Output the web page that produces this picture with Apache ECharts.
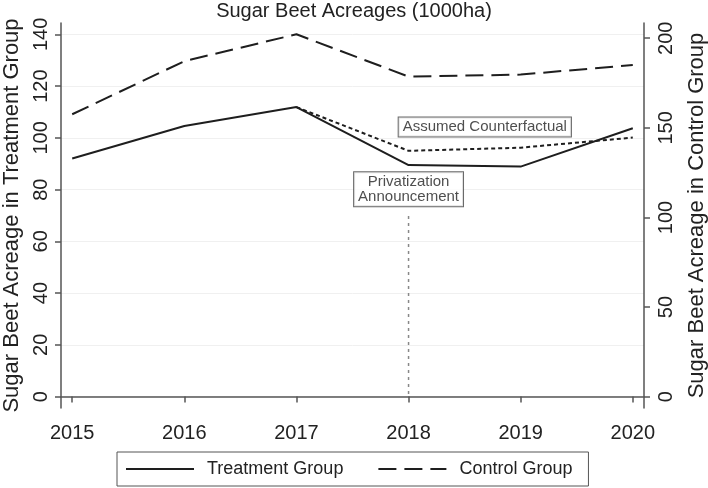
<!DOCTYPE html>
<html>
<head>
<meta charset="utf-8">
<script src="https://cdn.jsdelivr.net/npm/echarts@6/dist/echarts.min.js"></script>
<style>
html,body{margin:0;padding:0;background:#fff;}
#chart{width:708px;height:488px;}
</style>
</head>
<body>
<div id="chart"></div>
<script>
const years = [2015, 2016, 2017, 2018, 2019, 2020];
const treatment = [92.0, 104.6, 111.9, 89.5, 88.9, 103.7];
const control = [157.6, 187.2, 202.2, 178.6, 179.7, 185.1];
const cfYears = [2017, 2018, 2019, 2020];
const counterfactual = [111.9, 95.0, 96.2, 100.1];
const announceYear = 2018;
const announceSpan = [1, 70];
const leftTicks = [0, 20, 40, 60, 80, 100, 120, 140];
const rightTicks = [0, 50, 100, 150, 200];
const cfLabel = 'Assumed Counterfactual';
const announceLabel = 'Privatization\nAnnouncement';
const cfLabelAt = [2018.68, 104.2];
const announceLabelAt = [2018, 80.1];

const FONT = '"Liberation Sans", Arial, sans-serif';
const axisCol = '#555';
const lineCol = '#1e1e1e';
const clear = 'rgba(0,0,0,0)';

const chart = echarts.init(document.getElementById('chart'));
const boxLabel = {
  show: true, position: 'inside', formatter: p => p.name,
  color: '#222', fontFamily: FONT, fontSize: 15, lineHeight: 15,
  backgroundColor: '#fff', borderColor: '#444', borderWidth: 1,
  padding: [2, 4, 2, 4]
};
chart.setOption({
  animation: false,
  backgroundColor: '#fff',
  title: {
    text: 'Sugar Beet Acreages (1000ha)', left: 'center', top: 1, padding: 0,
    textStyle: {fontFamily: FONT, fontSize: 20, fontWeight: 'normal', color: '#222'}
  },
  grid: {left: 61, right: 64, top: 23, bottom: 80, containLabel: false, outerBoundsMode: 'none'},
  legend: {
    data: ['Treatment Group', 'Control Group'],
    left: 117, top: 452, itemWidth: 68, itemHeight: 12, itemGap: 34,
    padding: [8, 16, 8, 8], borderColor: '#555', borderWidth: 1,
    itemStyle: {opacity: 0},
    textStyle: {fontFamily: FONT, fontSize: 18, color: '#222', padding: [0, 0, 0, 8]}
  },
  xAxis: {
    type: 'value', min: 2014.9, max: 2020.1,
    axisLine: {lineStyle: {color: axisCol, width: 1.5}},
    axisTick: {show: true, length: 6, customValues: years, lineStyle: {color: axisCol, width: 1.5}},
    axisLabel: {customValues: years, fontFamily: FONT, fontSize: 20, color: '#222', margin: 15, formatter: v => String(v)},
    splitLine: {show: false}
  },
  yAxis: [{
    type: 'value', min: -4.4, max: 144.4, position: 'left',
    name: 'Sugar Beet Acreage in Treatment Group', nameLocation: 'middle', nameGap: 34, nameRotate: 90,
    nameTextStyle: {fontFamily: FONT, fontSize: 22, color: '#222'},
    axisLine: {show: true, lineStyle: {color: axisCol, width: 1.5}},
    axisTick: {show: true, length: 6, customValues: leftTicks, lineStyle: {color: axisCol, width: 1.5}},
    axisLabel: {customValues: leftTicks, rotate: 90, fontFamily: FONT, fontSize: 20, color: '#222', margin: 10},
    splitLine: {show: true, lineStyle: {color: '#f0f0f0', width: 1}}
  }, {
    type: 'value', min: -6.3, max: 208.5, position: 'right',
    name: 'Sugar Beet Acreage in Control Group', nameLocation: 'middle', nameGap: 42, nameRotate: 90,
    nameTextStyle: {fontFamily: FONT, fontSize: 22, color: '#222'},
    axisLine: {show: true, lineStyle: {color: axisCol, width: 1.5}},
    axisTick: {show: true, length: 6, customValues: rightTicks, lineStyle: {color: axisCol, width: 1.5}},
    axisLabel: {customValues: rightTicks, rotate: 90, fontFamily: FONT, fontSize: 20, color: '#222', margin: 12},
    splitLine: {show: false}
  }],
  series: [{
    name: 'Treatment Group', type: 'line', yAxisIndex: 0, symbol: 'none',
    data: years.map((y, i) => [y, treatment[i]]),
    lineStyle: {color: lineCol, width: 2}, itemStyle: {color: clear}, z: 5
  }, {
    name: 'Control Group', type: 'line', yAxisIndex: 1, symbol: 'none',
    data: years.map((y, i) => [y, control[i]]),
    lineStyle: {color: lineCol, width: 2, type: [18, 8]}, itemStyle: {color: clear}, z: 5
  }, {
    name: 'Counterfactual', type: 'line', yAxisIndex: 0, symbol: 'none',
    data: cfYears.map((y, i) => [y, counterfactual[i]]),
    lineStyle: {color: lineCol, width: 2, type: [4, 3]}, z: 4
  }, {
    name: 'Announcement', type: 'line', yAxisIndex: 0, symbol: 'none',
    data: announceSpan.map(v => [announceYear, v]),
    lineStyle: {color: '#888', width: 1.5, type: [3, 4]}, z: 3
  }, {
    name: 'Labels', type: 'scatter', yAxisIndex: 0, symbolSize: 0, z: 6,
    data: [
      {name: cfLabel, value: cfLabelAt},
      {name: announceLabel, value: announceLabelAt}
    ],
    label: boxLabel, emphasis: {disabled: true}, silent: true
  }]
});
</script>
</body>
</html>
